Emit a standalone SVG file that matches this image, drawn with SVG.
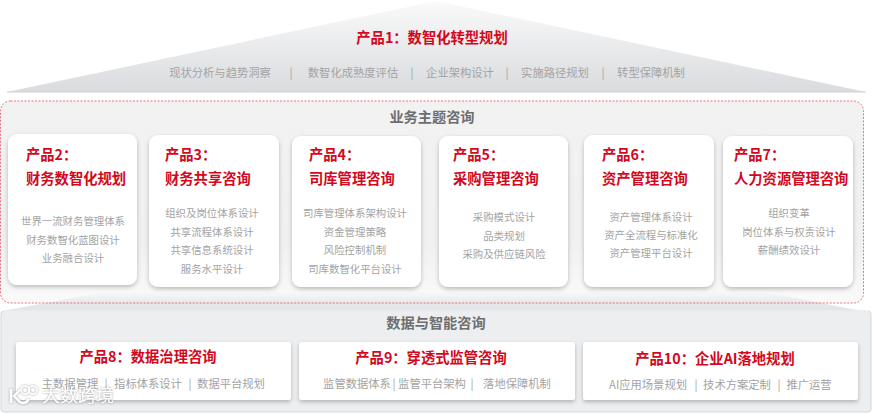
<svg xmlns="http://www.w3.org/2000/svg" width="872" height="413" viewBox="0 0 872 413">
<style>
text{font-family:"Noto Sans CJK SC","Liberation Sans",sans-serif}
.t{font-size:14.3px;font-weight:700;fill:#d3081c}
.h{font-size:14.2px;font-weight:700;fill:#6e6e6e;text-anchor:middle}
.i{font-size:10.4px;fill:#a3a3a3;text-anchor:middle}
.o{font-size:11.3px;fill:#a3a3a3;text-anchor:middle}
.c{fill:#fff;filter:url(#sh)}
.m{text-anchor:middle}
.wl{fill:none;stroke:#fff}
</style>
<defs>
<linearGradient id="tri" x1="0" y1="0" x2="0" y2="1"><stop offset="0" stop-color="#fafafa"/><stop offset="1" stop-color="#d9dbde"/></linearGradient>
<linearGradient id="pan" x1="0" y1="0" x2="0" y2="1"><stop offset="0" stop-color="#f2f2f3"/><stop offset="0.7" stop-color="#f0f0f1"/><stop offset="1" stop-color="#fafafa"/></linearGradient>
<linearGradient id="slope" x1="0" y1="0" x2="0" y2="1"><stop offset="0" stop-color="#eceef0" stop-opacity="0.2"/><stop offset="0.5" stop-color="#e6e8ea"/><stop offset="1" stop-color="#e3e5e8"/></linearGradient>
<filter id="sh" x="-10%" y="-10%" width="120%" height="125%"><feDropShadow dx="0" dy="2" stdDeviation="2" flood-color="#000" flood-opacity="0.25"/></filter>
<filter id="ws" x="-10%" y="-20%" width="120%" height="140%"><feDropShadow dx="0" dy="0" stdDeviation="0.8" flood-color="#777" flood-opacity="0.8"/></filter>
</defs>
<rect width="872" height="413" fill="#fff"/>
<g id="top">
<polygon points="436,1 866,92 7,92" fill="url(#tri)"/>
<line x1="7" y1="92" x2="866" y2="92" stroke="#cfd1d4"/>
<text class="t m" x="432" y="43">产品1：数智化转型规划</text>
<text class="o" x="220" y="77">现状分析与趋势洞察</text>
<text class="o" x="291" y="77">|</text>
<text class="o" x="353" y="77">数智化成熟度评估</text>
<text class="o" x="412" y="77">|</text>
<text class="o" x="460" y="77">企业架构设计</text>
<text class="o" x="507" y="77">|</text>
<text class="o" x="555" y="77">实施路径规划</text>
<text class="o" x="603" y="77">|</text>
<text class="o" x="651" y="77">转型保障机制</text>
</g>
<g id="panel">
<rect x="0.5" y="101" width="863" height="202" rx="10" fill="url(#pan)"/>
<polygon points="2,311 100,293 770,293 862,311" fill="url(#slope)"/>
<rect x="0.5" y="101" width="863" height="202" rx="10" fill="none" stroke="#e2505c" stroke-width="0.8" stroke-dasharray="2 1.5"/>
<text class="h" x="432" y="122">业务主题咨询</text>
</g>
<g id="band">
<rect x="1" y="311" width="870" height="101" rx="3" fill="#eceef0" stroke="#d5d7da"/>
<line x1="3" y1="311" x2="869" y2="311" stroke="#f6f7f8"/>
<text class="h" x="436" y="328">数据与智能咨询</text>
</g>
<g id="card2"><rect class="c" x="8" y="134" width="129" height="151" rx="9"/>
<text class="t" x="26" y="160">产品2：</text><text class="t" x="26" y="184">财务数智化规划</text>
<text class="i" x="73" y="225">世界一流财务管理体系</text><text class="i" x="73" y="244">财务数智化蓝图设计</text><text class="i" x="73" y="262">业务融合设计</text></g>
<g id="card3"><rect class="c" x="149" y="135" width="130" height="152" rx="9"/>
<text class="t" x="165" y="160">产品3：</text><text class="t" x="165" y="184">财务共享咨询</text>
<text class="i" x="212" y="217">组织及岗位体系设计</text><text class="i" x="212" y="236">共享流程体系设计</text><text class="i" x="212" y="254">共享信息系统设计</text><text class="i" x="212" y="273">服务水平设计</text></g>
<g id="card4"><rect class="c" x="292" y="136" width="129" height="151" rx="9"/>
<text class="t" x="309" y="160">产品4：</text><text class="t" x="309" y="184">司库管理咨询</text>
<text class="i" x="355" y="217">司库管理体系架构设计</text><text class="i" x="355" y="236">资金管理策略</text><text class="i" x="355" y="254">风险控制机制</text><text class="i" x="355" y="273">司库数智化平台设计</text></g>
<g id="card5"><rect class="c" x="439" y="136" width="129" height="151" rx="9"/>
<text class="t" x="453" y="160">产品5：</text><text class="t" x="453" y="184">采购管理咨询</text>
<text class="i" x="504" y="221">采购模式设计</text><text class="i" x="504" y="240">品类规划</text><text class="i" x="504" y="258">采购及供应链风险</text></g>
<g id="card6"><rect class="c" x="584" y="135" width="130" height="152" rx="9"/>
<text class="t" x="602" y="160">产品6：</text><text class="t" x="602" y="184">资产管理咨询</text>
<text class="i" x="651" y="221">资产管理体系设计</text><text class="i" x="651" y="239">资产全流程与标准化</text><text class="i" x="651" y="257">资产管理平台设计</text></g>
<g id="card7"><rect class="c" x="723" y="136" width="130" height="151" rx="9"/>
<text class="t" x="734" y="160">产品7：</text><text class="t" x="734" y="184">人力资源管理咨询</text>
<text class="i" x="789" y="217">组织变革</text><text class="i" x="789" y="236">岗位体系与权责设计</text><text class="i" x="789" y="254">薪酬绩效设计</text></g>
<g id="card8"><rect class="c" x="16" y="342" width="275" height="58" rx="3"/>
<text class="t m" x="148" y="362">产品8：数据治理咨询</text>
<text class="o" x="70" y="388">主数据管理</text><text class="o" x="106" y="388">|</text><text class="o" x="148" y="388">指标体系设计</text><text class="o" x="190" y="388">|</text><text class="o" x="231" y="388">数据平台规划</text></g>
<g id="card9"><rect class="c" x="299" y="342" width="276" height="58" rx="3"/>
<text class="t m" x="431" y="363">产品9：穿透式监管咨询</text>
<text class="o" x="357" y="388">监管数据体系</text><text class="o" x="394" y="388">|</text><text class="o" x="432" y="388">监管平台架构</text><text class="o" x="472" y="388">|</text><text class="o" x="517" y="388">落地保障机制</text></g>
<g id="card10"><rect class="c" x="583" y="342" width="275" height="58" rx="3"/>
<text class="t m" x="715" y="364">产品10：企业AI落地规划</text>
<text class="o" x="648" y="389">AI应用场景规划</text><text class="o" x="696" y="389">|</text><text class="o" x="737" y="389">技术方案定制</text><text class="o" x="779" y="389">|</text><text class="o" x="809" y="389">推广运营</text></g>
<g id="watermark" filter="url(#ws)">
<path class="wl" d="M11 389V403M20 390L14 396L20 402Q25 405 29 399" stroke-width="2.4"/>
<circle class="wl" cx="25" cy="390" r="4" stroke-width="1.6"/>
<circle class="wl" cx="33" cy="390" r="4" stroke-width="1.6"/>
<text x="42" y="402" font-size="18" fill="#fff">大数跨境</text>
</g>
</svg>
